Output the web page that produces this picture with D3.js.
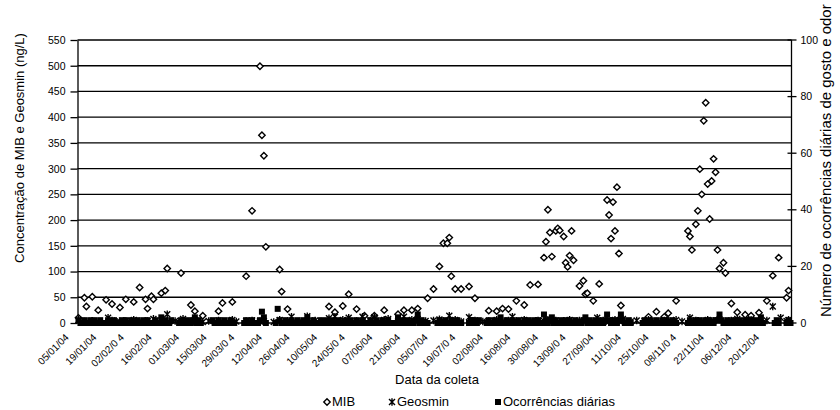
<!DOCTYPE html>
<html><head><meta charset="utf-8">
<script src="https://cdn.jsdelivr.net/npm/d3@7"></script>
<style>
body{margin:0;background:#fff}
svg, text{font-family:"Liberation Sans",Arial,sans-serif}
text{fill:#000}
</style>
</head><body>
<svg id="c" width="840" height="410"></svg>
<script>
// ---------- DATA ----------
const ano = "2004";
const inicio = "05/01", fim = "01/01/2005";

const rotulosX = ["05/01/04","19/01/04","02/02/0 4","16/02/04","01/03/04","15/03/04","29/03/0 4",
  "12/04/04","26/04/04","10/05/04","24/05/0 4","07/06/04","21/06/04","05/07/04","19/07/0 4",
  "02/08/04","16/08/04","30/08/04","13/09/0 4","27/09/04","11/10/04","25/10/04","08/11/0 4",
  "22/11/04","06/12/04","20/12/04"];

const ticksEsq = [0,50,100,150,200,250,300,350,400,450,500,550];
const ticksDir = [0,20,40,60,80,100];

// MIB (ng/L)
const mibDatas = [
 "05/01","08/01","09/01","12/01","15/01","19/01","22/01","26/01","29/01",
 "02/02","05/02","08/02","09/02","11/02","12/02","16/02","18/02","19/02","26/02",
 "02/03","04/03","08/03","16/03","18/03","23/03","30/03",
 "02/04","06/04","07/04","08/04","09/04","16/04","17/04","20/04",
 "11/05","14/05","18/05","21/05","25/05","29/05",
 "03/06","08/06","15/06","18/06","22/06","25/06","30/06",
 "03/07","06/07","08/07","10/07","11/07","12/07","14/07","17/07","21/07","24/07","31/07",
 "04/08","07/08","10/08","14/08","18/08","21/08","25/08","28/08","29/08","30/08","31/08",
 "01/09","03/09","04/09","05/09","07/09","08/09","09/09","10/09","11/09","12/09","15/09","17/09","18/09","19/09","22/09","25/09","29/09","30/09",
 "01/10","02/10","03/10","04/10","05/10","06/10","20/10","24/10","28/10","30/10",
 "03/11","09/11","10/11","11/11","13/11","14/11","15/11","16/11","17/11","18/11","19/11","20/11","21/11","22/11","23/11","24/11","25/11","27/11","28/11",
 "01/12","04/12","08/12","11/12","15/12","19/12","22/12","25/12","29/12","30/12"];
const mibValores = [
 10,49,32,51,25,45,37,30,46,
 41,69,46,28,52,46,58,63,106,97,
 35,23,14,23,39,41,91,
 218,499,365,325,148,104,61,27,
 32,21,33,56,27,14,
 14,25,17,25,25,28,48,
 66,110,155,155,166,91,66,66,71,48,24,
 23,28,27,43,35,74,75,127,158,220,176,
 129,179,184,180,168,117,109,131,179,122,72,82,56,58,43,76,239,210,
 164,235,179,264,135,34,12,22,12,19,
 43,179,168,142,192,218,299,250,393,428,270,202,276,319,293,142,106,117,97,
 38,21,16,14,20,43,92,127,49,63];

// Geosmin (ng/L)
const geoDatas = [
 "05/01","08/01","12/01","15/01","20/01","22/01","26/01","29/01",
 "02/02","05/02","09/02","12/02","16/02","19/02","23/02","27/02",
 "02/03","04/03","08/03","11/03","16/03","18/03","23/03","25/03","30/03",
 "02/04","06/04","08/04","13/04","16/04","20/04","22/04","26/04","30/04",
 "04/05","07/05","11/05","14/05","18/05","21/05","25/05","28/05",
 "01/06","03/06","08/06","10/06","15/06","18/06","22/06","25/06","29/06",
 "03/07","06/07","08/07","11/07","14/07","17/07","21/07","24/07","28/07","31/07",
 "04/08","07/08","10/08","12/08","14/08","18/08","21/08","25/08","28/08","30/08",
 "01/09","03/09","07/09","10/09","12/09","15/09","18/09","22/09","24/09","27/09","30/09",
 "03/10","05/10","07/10","11/10","14/10","18/10","20/10","24/10","28/10","30/10",
 "03/11","06/11","10/11","13/11","16/11","19/11","22/11","25/11","28/11",
 "01/12","04/12","08/12","11/12","15/12","19/12","22/12","26/12","29/12","30/12"];
const geoValores = [
 6,3,4,2,10,5,3,4,
 6,3,4,8,5,17,4,8,
 3,6,2,4,5,3,6,3,4,
 5,3,4,2,6,4,12,3,13,
 5,3,9,12,6,10,4,12,
 5,11,6,8,3,12,6,8,4,
 5,7,4,14,6,3,11,5,3,4,
 6,3,5,12,4,6,3,5,4,6,
 3,5,4,6,3,5,4,3,10,5,3,
 6,4,8,3,5,4,6,3,5,4,
 6,3,10,5,3,6,4,7,3,
 5,8,4,6,3,5,32,10,4,6];

// Ocorrências diárias (eixo secundário), um valor por dia a partir de 05/01; _ = sem registro
const _ = null;
const ocorrencias = [
 1,0,0,1,0,0,1,0,1,0,0,1,0,0,
 0,1,0,0,1,0,0,0,1,0,1,0,0,1,
 0,0,1,0,0,1,0,1,0,0,0,1,0,0,
 2,0,1,0,0,1,_,_,_,0,1,0,0,1,
 0,0,1,2,0,1,0,_,_,_,_,_,1,0,
 0,1,0,0,1,0,0,1,0,0,_,_,_,_,
 0,1,0,0,1,0,0,0,1,4,2,0,_,_,
 _,_,0,5,1,0,0,1,0,0,1,0,0,1,
 0,0,1,0,2,0,0,1,0,0,0,1,0,0,
 1,0,0,1,0,0,1,0,0,0,1,0,1,0,
 0,1,0,0,1,0,0,0,1,0,0,1,0,0,
 1,0,0,1,0,0,0,0,2,0,1,0,0,1,
 0,0,0,1,3,0,1,0,0,0,_,_,_,_,
 0,1,0,0,1,0,0,1,0,0,1,0,0,_,
 _,_,0,1,1,0,0,1,_,_,_,0,1,0,
 0,1,0,0,2,0,0,1,0,0,1,0,0,1,
 0,0,1,0,1,0,0,1,0,1,0,0,3,1,
 0,1,2,0,1,0,0,1,0,1,0,1,0,0,
 1,0,0,0,1,2,0,1,0,0,1,0,1,0,
 0,1,3,1,0,1,0,0,1,3,1,0,0,1,
 0,_,_,_,_,_,0,1,0,0,1,0,0,1,
 0,0,1,0,1,0,0,1,0,0,_,_,_,_,
 _,0,1,0,0,1,0,1,0,0,1,0,1,0,
 0,1,1,3,1,0,0,1,0,0,1,0,0,1,
 0,0,1,0,1,0,0,1,0,0,2,0,_,_,
 _,_,_,0,1,0,_,_,_,0,1,0];

// ---------- CHART ----------
const FONTE = "Liberation Sans, Arial, sans-serif";
const parse = d3.utcParse("%d/%m/%Y");
const dia = s => parse(s.length === 5 ? s + "/" + ano : s);
const d0 = dia(inicio), d1 = dia(fim);

const L = 77.5, R = 791.5, T = 40, B = 323;
const xs = d3.scaleUtc().domain([d0, d1]).range([L, R]);
const x = d => xs(d3.utcHour.offset(d, 12));
const yL = d3.scaleLinear().domain([0, 550]).range([B, T]);
const yR = d3.scaleLinear().domain([0, 100]).range([B, T]);

const svg = d3.select("#c").attr("font-family", FONTE);

// gridlines
svg.append("g").selectAll("line").data(ticksEsq.filter(v => v > 0)).join("line")
  .attr("x1", L).attr("x2", R).attr("y1", d => yL(d)).attr("y2", d => yL(d))
  .attr("stroke", "#000").attr("stroke-width", 1.3);

// left axis
const axL = svg.append("g").attr("transform", `translate(${L},0)`)
  .call(d3.axisLeft(yL).tickValues(ticksEsq).tickSize(7).tickPadding(5).tickSizeOuter(0));
axL.attr("font-family", FONTE).attr("font-size", 10.5);
axL.selectAll("path,line").attr("stroke", "#000").attr("stroke-width", 1.3);

// right axis (cross ticks)
const axR = svg.append("g").attr("transform", `translate(${R},0)`);
axR.append("line").attr("y1", T).attr("y2", B).attr("stroke", "#000").attr("stroke-width", 1.3);
axR.selectAll("line.t").data(ticksDir).join("line").attr("class", "t")
  .attr("x1", -4).attr("x2", 5).attr("y1", d => yR(d)).attr("y2", d => yR(d))
  .attr("stroke", "#000").attr("stroke-width", 1.3);
axR.selectAll("text").data(ticksDir).join("text")
  .attr("x", 9).attr("y", d => yR(d)).attr("dy", "0.35em")
  .attr("font-size", 10.5).text(d => d);

// x axis line
svg.append("line").attr("x1", L).attr("x2", R).attr("y1", B).attr("y2", B)
  .attr("stroke", "#000").attr("stroke-width", 1.3);

// x tick labels
svg.append("g").selectAll("text").data(rotulosX).join("text")
  .attr("transform", d => `translate(${x(dia(d.replace(/\s/g, "").slice(0, 5)))-9},338) rotate(-45)`)
  .attr("text-anchor", "end").attr("font-size", 10).text(d => d);

// marker shapes
const diamante = "M0,-3.2L3.2,0L0,3.2L-3.2,0Z";
const estrela = "M-3,-3L3,3M-3,3L3,-3M0,-3.8L0,3.8";

const mib = mibDatas.map((d, i) => ({d: dia(d), v: mibValores[i]}));
const geo = geoDatas.map((d, i) => ({d: dia(d), v: geoValores[i]}));
const oco = ocorrencias.map((v, i) => ({d: d3.utcDay.offset(d0, i), v})).filter(o => o.v !== null);

svg.append("g").selectAll("path").data(mib).join("path")
  .attr("d", diamante).attr("transform", o => `translate(${x(o.d)},${yL(o.v)})`)
  .attr("fill", "#fff").attr("stroke", "#000").attr("stroke-width", 1.4);

svg.append("g").selectAll("path").data(geo).join("path")
  .attr("d", estrela).attr("transform", o => `translate(${x(o.d)},${yL(o.v)})`)
  .attr("fill", "none").attr("stroke", "#000").attr("stroke-width", 1.4);

svg.append("g").selectAll("rect").data(oco).join("rect")
  .attr("x", o => x(o.d) - 3).attr("y", o => yR(o.v) - 3).attr("width", 6).attr("height", 6)
  .attr("fill", "#000");

// titles
svg.append("text").attr("transform", "translate(24,148) rotate(-90)")
  .attr("text-anchor", "middle").attr("font-size", 13)
  .text("Concentração de MIB e Geosmin (ng/L)");
svg.append("text").attr("transform", "translate(831,317) rotate(-90)")
  .attr("text-anchor", "start").attr("font-size", 15)
  .text("Número de ocorrências diárias de gosto e odor");
svg.append("text").attr("x", 437).attr("y", 384).attr("text-anchor", "middle")
  .attr("font-size", 13).text("Data da coleta");

// legend
const lg = svg.append("g");
lg.append("path").attr("d", diamante).attr("transform", "translate(327,402)")
  .attr("fill", "#fff").attr("stroke", "#000").attr("stroke-width", 1.4);
lg.append("text").attr("x", 332).attr("y", 406).attr("font-size", 13).text("MIB");
lg.append("path").attr("d", estrela).attr("transform", "translate(392,402)")
  .attr("fill", "none").attr("stroke", "#000").attr("stroke-width", 1.4);
lg.append("text").attr("x", 397).attr("y", 406).attr("font-size", 13).text("Geosmin");
lg.append("rect").attr("x", 495).attr("y", 399).attr("width", 6).attr("height", 6).attr("fill", "#000");
lg.append("text").attr("x", 503).attr("y", 406).attr("font-size", 13).text("Ocorrências diárias");
</script>
</body></html>
